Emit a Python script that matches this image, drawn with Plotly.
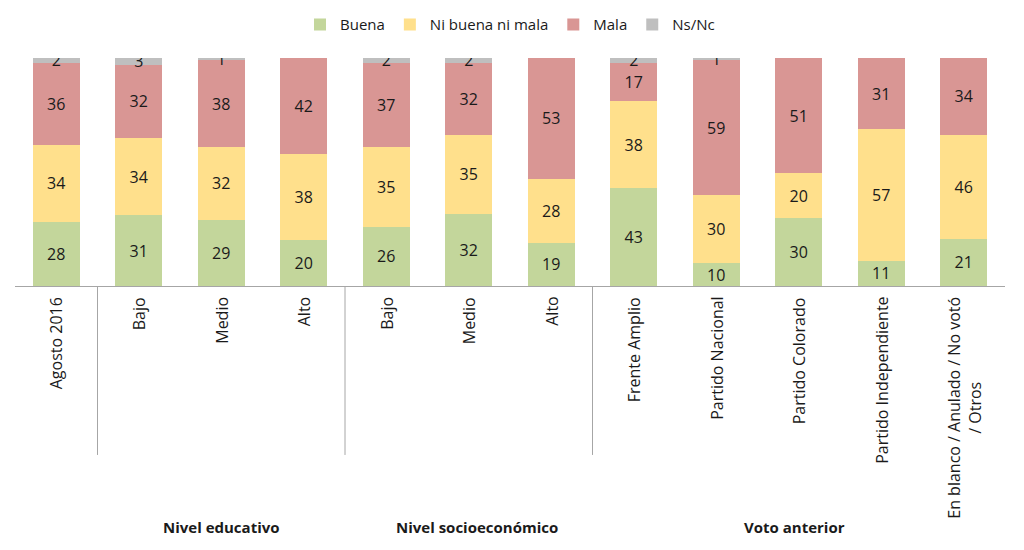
import plotly.graph_objects as go

categories = ["Agosto 2016", "Bajo", "Medio", "Alto", "Bajo", "Medio", "Alto",
              "Frente Amplio", "Partido Nacional", "Partido Colorado",
              "Partido Independiente", "En blanco / Anulado / No votó<br>/ Otros"]
buena = [28, 31, 29, 20, 26, 32, 19, 43, 10, 30, 11, 21]
ni_buena_ni_mala = [34, 34, 32, 38, 35, 35, 28, 38, 30, 20, 57, 46]
mala = [36, 32, 38, 42, 37, 32, 53, 17, 59, 51, 31, 34]
ns_nc = [2, 3, 1, 0, 2, 2, 0, 2, 1, 0, 0, 0]

series_names = ["Buena", "Ni buena ni mala", "Mala", "Ns/Nc"]
series_values = [buena, ni_buena_ni_mala, mala, ns_nc]
series_colors = ["#C3D69B", "#FFE08C", "#D99694", "#BFBFBF"]

group_labels = ["Nivel educativo", "Nivel socioeconómico", "Voto anterior"]
group_x = [2.0, 5.1, 8.95]
separators = [0.5, 3.5, 6.5]

FONT = "Open Sans"
TXT = "#1a1a1a"
x = list(range(len(categories)))

fig = go.Figure()
for name, vals, col in zip(series_names, series_values, series_colors):
    fig.add_trace(go.Bar(
        x=x, y=vals, name=name, marker=dict(color=col, line=dict(width=0)),
        width=0.57,
        text=[str(v) if v else "" for v in vals],
        textposition="inside", insidetextanchor="middle", textangle=0,
        insidetextfont=dict(family=FONT, size=16, color=TXT),
        hoverinfo="skip",
    ))

fig.update_layout(
    barmode="stack", barnorm="percent",
    width=1024, height=550,
    margin=dict(l=15, r=19, t=58, b=264),
    paper_bgcolor="white", plot_bgcolor="white",
    font=dict(family=FONT, size=15, color=TXT),
    uniformtext=dict(minsize=16, mode="show"),
    legend=dict(orientation="h", x=0.5, xanchor="center", yref="container",
                y=0.955, yanchor="middle", font=dict(size=15), traceorder="normal"),
    showlegend=True,
)
fig.update_xaxes(range=[-0.5, len(categories) - 0.5], showticklabels=False,
                 showgrid=False, zeroline=False, showline=True,
                 linecolor="#A6A6A6", linewidth=1, ticks="")
fig.update_yaxes(range=[0, 100], visible=False, showgrid=False, zeroline=False)

for i, lab in enumerate(categories):
    fig.add_annotation(x=i, y=0, xref="x", yref="paper", text=lab, textangle=-90,
                       showarrow=False, xanchor="center", yanchor="top", yshift=-9,
                       align="center", font=dict(size=16, color=TXT))

for sx in separators:
    fig.add_shape(type="line", xref="x", yref="paper", x0=sx, x1=sx, y0=0, y1=-0.741,
                  line=dict(color="#A6A6A6", width=1))

for gl, gx in zip(group_labels, group_x):
    fig.add_annotation(x=gx, y=-1.057, xref="x", yref="paper", text="<b>" + gl + "</b>",
                       showarrow=False, xanchor="center", yanchor="middle",
                       font=dict(size=15, color=TXT))

fig.write_html("out.html")
